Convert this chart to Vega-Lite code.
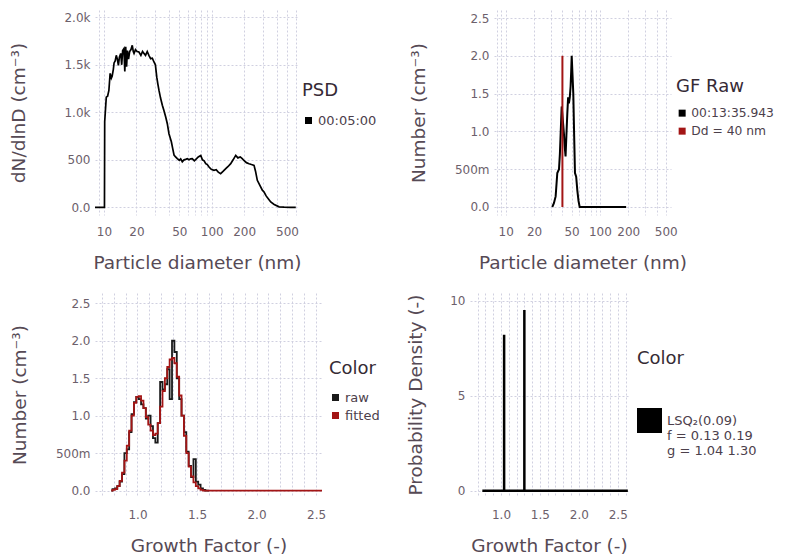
{
  "$schema": "https://vega.github.io/schema/vega-lite/v6.json",
  "background": "white",
  "padding": {"left": 9, "top": 10, "right": 0, "bottom": 0},
  "resolve": {"scale": {"color": "independent"}, "legend": {"color": "independent"}},
  "config": {
    "view": {"stroke": null},
    "font": "DejaVu Sans",
    "axis": {
      "grid": true, "gridColor": "#d0d0e0", "gridDash": [2, 2], "gridWidth": 1,
      "domain": false, "ticks": false, "labelOverlap": false, "labelFlush": false, "labelBound": false,
      "labelColor": "#6c606b", "labelFontSize": 12, "labelPadding": 5,
      "titleColor": "#564a55", "titleFontSize": 18.5, "titleFontWeight": "normal"
    },
    "axisX": {"labelPadding": 11, "titlePadding": 16},
    "legend": {
      "orient": "none", "padding": 0,
      "titleFontSize": 18, "titleFontWeight": "normal", "titleColor": "#362a35", "titlePadding": 14,
      "labelFontSize": 13, "labelColor": "#4c404b", "labelOffset": 3, "rowPadding": -10,
      "symbolType": "square", "symbolSize": 4, "symbolStrokeWidth": 5
    }
  },
  "datasets": {
    "psd": [
      {"d": 7.6, "n": 0, "s": "00:05:00"}, {"d": 10.1, "n": 0, "s": "00:05:00"}, {"d": 10.15, "n": 900, "s": "00:05:00"}, {"d": 10.5, "n": 1160, "s": "00:05:00"}, {"d": 10.8, "n": 1170, "s": "00:05:00"},
      {"d": 11.1, "n": 1230, "s": "00:05:00"}, {"d": 11.4, "n": 1410, "s": "00:05:00"}, {"d": 11.7, "n": 1360, "s": "00:05:00"}, {"d": 11.9, "n": 1380, "s": "00:05:00"}, {"d": 12.2, "n": 1450, "s": "00:05:00"},
      {"d": 12.4, "n": 1520, "s": "00:05:00"}, {"d": 12.7, "n": 1540, "s": "00:05:00"}, {"d": 13.0, "n": 1600, "s": "00:05:00"}, {"d": 13.3, "n": 1560, "s": "00:05:00"}, {"d": 13.6, "n": 1495, "s": "00:05:00"},
      {"d": 13.9, "n": 1580, "s": "00:05:00"}, {"d": 14.3, "n": 1620, "s": "00:05:00"}, {"d": 14.6, "n": 1500, "s": "00:05:00"}, {"d": 14.9, "n": 1650, "s": "00:05:00"}, {"d": 15.3, "n": 1670, "s": "00:05:00"},
      {"d": 15.6, "n": 1430, "s": "00:05:00"}, {"d": 15.9, "n": 1690, "s": "00:05:00"}, {"d": 16.2, "n": 1480, "s": "00:05:00"}, {"d": 16.5, "n": 1650, "s": "00:05:00"}, {"d": 16.9, "n": 1560, "s": "00:05:00"},
      {"d": 17.3, "n": 1640, "s": "00:05:00"}, {"d": 17.8, "n": 1660, "s": "00:05:00"}, {"d": 18.3, "n": 1705, "s": "00:05:00"}, {"d": 18.7, "n": 1640, "s": "00:05:00"}, {"d": 19.0, "n": 1620, "s": "00:05:00"},
      {"d": 19.6, "n": 1660, "s": "00:05:00"}, {"d": 20.3, "n": 1640, "s": "00:05:00"}, {"d": 21.1, "n": 1635, "s": "00:05:00"}, {"d": 22.0, "n": 1600, "s": "00:05:00"}, {"d": 22.8, "n": 1640, "s": "00:05:00"},
      {"d": 23.5, "n": 1620, "s": "00:05:00"}, {"d": 24.3, "n": 1600, "s": "00:05:00"}, {"d": 25.2, "n": 1640, "s": "00:05:00"}, {"d": 26.1, "n": 1600, "s": "00:05:00"}, {"d": 27.1, "n": 1565, "s": "00:05:00"},
      {"d": 28.1, "n": 1570, "s": "00:05:00"}, {"d": 29.1, "n": 1530, "s": "00:05:00"}, {"d": 30.0, "n": 1500, "s": "00:05:00"}, {"d": 30.9, "n": 1370, "s": "00:05:00"}, {"d": 31.6, "n": 1300, "s": "00:05:00"},
      {"d": 32.4, "n": 1230, "s": "00:05:00"}, {"d": 33.5, "n": 1150, "s": "00:05:00"}, {"d": 34.8, "n": 1075, "s": "00:05:00"}, {"d": 36.0, "n": 1020, "s": "00:05:00"}, {"d": 37.4, "n": 950, "s": "00:05:00"},
      {"d": 38.7, "n": 880, "s": "00:05:00"}, {"d": 40.1, "n": 775, "s": "00:05:00"}, {"d": 41.2, "n": 730, "s": "00:05:00"}, {"d": 42.2, "n": 690, "s": "00:05:00"}, {"d": 43.4, "n": 620, "s": "00:05:00"},
      {"d": 44.7, "n": 550, "s": "00:05:00"}, {"d": 46.2, "n": 530, "s": "00:05:00"}, {"d": 47.9, "n": 512, "s": "00:05:00"}, {"d": 50.0, "n": 495, "s": "00:05:00"}, {"d": 51.5, "n": 510, "s": "00:05:00"},
      {"d": 53.3, "n": 480, "s": "00:05:00"}, {"d": 55.3, "n": 500, "s": "00:05:00"}, {"d": 57.3, "n": 505, "s": "00:05:00"}, {"d": 59.3, "n": 512, "s": "00:05:00"}, {"d": 61.5, "n": 500, "s": "00:05:00"},
      {"d": 63.8, "n": 510, "s": "00:05:00"}, {"d": 66.0, "n": 512, "s": "00:05:00"}, {"d": 69.0, "n": 490, "s": "00:05:00"}, {"d": 72.0, "n": 510, "s": "00:05:00"}, {"d": 75.0, "n": 530, "s": "00:05:00"},
      {"d": 79.1, "n": 545, "s": "00:05:00"}, {"d": 82.0, "n": 500, "s": "00:05:00"}, {"d": 85.0, "n": 490, "s": "00:05:00"}, {"d": 88.0, "n": 460, "s": "00:05:00"}, {"d": 91.0, "n": 450, "s": "00:05:00"},
      {"d": 94.4, "n": 424, "s": "00:05:00"}, {"d": 99.0, "n": 400, "s": "00:05:00"}, {"d": 105, "n": 389, "s": "00:05:00"}, {"d": 110, "n": 395, "s": "00:05:00"}, {"d": 115, "n": 370, "s": "00:05:00"},
      {"d": 121, "n": 354, "s": "00:05:00"}, {"d": 128, "n": 380, "s": "00:05:00"}, {"d": 135, "n": 407, "s": "00:05:00"}, {"d": 142, "n": 430, "s": "00:05:00"}, {"d": 150, "n": 459, "s": "00:05:00"},
      {"d": 158, "n": 500, "s": "00:05:00"}, {"d": 167, "n": 547, "s": "00:05:00"}, {"d": 175, "n": 520, "s": "00:05:00"}, {"d": 184, "n": 530, "s": "00:05:00"}, {"d": 192, "n": 512, "s": "00:05:00"},
      {"d": 200, "n": 490, "s": "00:05:00"}, {"d": 210, "n": 470, "s": "00:05:00"}, {"d": 222, "n": 459, "s": "00:05:00"}, {"d": 234, "n": 450, "s": "00:05:00"}, {"d": 247, "n": 442, "s": "00:05:00"},
      {"d": 255, "n": 380, "s": "00:05:00"}, {"d": 265, "n": 284, "s": "00:05:00"}, {"d": 280, "n": 230, "s": "00:05:00"}, {"d": 295, "n": 180, "s": "00:05:00"}, {"d": 306, "n": 161, "s": "00:05:00"},
      {"d": 320, "n": 120, "s": "00:05:00"}, {"d": 335, "n": 90, "s": "00:05:00"}, {"d": 353, "n": 56, "s": "00:05:00"}, {"d": 380, "n": 30, "s": "00:05:00"}, {"d": 422, "n": 5, "s": "00:05:00"},
      {"d": 470, "n": 1, "s": "00:05:00"}, {"d": 540, "n": 0, "s": "00:05:00"}, {"d": 603, "n": 0, "s": "00:05:00"}
    ],
    "gfraw": [
      {"d": 31.2, "n": 0, "s": "00:13:35.943"}, {"d": 32.5, "n": 0.05, "s": "00:13:35.943"}, {"d": 33.9, "n": 0.14, "s": "00:13:35.943"},
      {"d": 35.3, "n": 0.45, "s": "00:13:35.943"}, {"d": 36.8, "n": 0.5, "s": "00:13:35.943"}, {"d": 37.6, "n": 0.7, "s": "00:13:35.943"},
      {"d": 38.4, "n": 1.0, "s": "00:13:35.943"}, {"d": 39.3, "n": 1.33, "s": "00:13:35.943"}, {"d": 40.4, "n": 1.15, "s": "00:13:35.943"},
      {"d": 41.5, "n": 0.97, "s": "00:13:35.943"}, {"d": 42.3, "n": 0.8, "s": "00:13:35.943"}, {"d": 43.2, "n": 0.67, "s": "00:13:35.943"},
      {"d": 44.1, "n": 0.95, "s": "00:13:35.943"}, {"d": 45.1, "n": 1.24, "s": "00:13:35.943"}, {"d": 46.0, "n": 1.45, "s": "00:13:35.943"},
      {"d": 46.9, "n": 1.37, "s": "00:13:35.943"}, {"d": 47.9, "n": 1.45, "s": "00:13:35.943"}, {"d": 48.9, "n": 1.6, "s": "00:13:35.943"},
      {"d": 49.6, "n": 1.8, "s": "00:13:35.943"}, {"d": 50.2, "n": 2.0, "s": "00:13:35.943"}, {"d": 51.2, "n": 1.75, "s": "00:13:35.943"},
      {"d": 52.2, "n": 1.5, "s": "00:13:35.943"}, {"d": 53.3, "n": 0.95, "s": "00:13:35.943"}, {"d": 54.4, "n": 0.45, "s": "00:13:35.943"},
      {"d": 56.0, "n": 0.4, "s": "00:13:35.943"}, {"d": 57.6, "n": 0.22, "s": "00:13:35.943"}, {"d": 59.3, "n": 0.08, "s": "00:13:35.943"},
      {"d": 61.0, "n": 0, "s": "00:13:35.943"}, {"d": 100, "n": 0, "s": "00:13:35.943"}, {"d": 190, "n": 0, "s": "00:13:35.943"},
      {"d": 40, "n": 0, "s": "Dd = 40 nm"}, {"d": 40, "n": 2.0, "s": "Dd = 40 nm"}
    ],
    "gf": [
      {"g": 0.78, "n": 0.00, "k": "raw"}, {"g": 0.80, "n": 0.02, "k": "raw"}, {"g": 0.82, "n": 0.03, "k": "raw"}, {"g": 0.84, "n": 0.06, "k": "raw"},
      {"g": 0.86, "n": 0.12, "k": "raw"}, {"g": 0.88, "n": 0.22, "k": "raw"}, {"g": 0.90, "n": 0.50, "k": "raw"}, {"g": 0.92, "n": 0.55, "k": "raw"},
      {"g": 0.94, "n": 0.78, "k": "raw"}, {"g": 0.96, "n": 1.02, "k": "raw"}, {"g": 0.98, "n": 1.18, "k": "raw"}, {"g": 1.00, "n": 1.25, "k": "raw"},
      {"g": 1.02, "n": 1.22, "k": "raw"}, {"g": 1.04, "n": 1.15, "k": "raw"}, {"g": 1.06, "n": 1.10, "k": "raw"}, {"g": 1.08, "n": 0.96, "k": "raw"},
      {"g": 1.10, "n": 1.00, "k": "raw"}, {"g": 1.12, "n": 0.86, "k": "raw"}, {"g": 1.14, "n": 0.70, "k": "raw"}, {"g": 1.16, "n": 0.64, "k": "raw"},
      {"g": 1.18, "n": 0.90, "k": "raw"}, {"g": 1.20, "n": 1.45, "k": "raw"}, {"g": 1.22, "n": 1.35, "k": "raw"}, {"g": 1.24, "n": 1.42, "k": "raw"},
      {"g": 1.26, "n": 1.62, "k": "raw"}, {"g": 1.28, "n": 1.22, "k": "raw"}, {"g": 1.30, "n": 2.00, "k": "raw"}, {"g": 1.32, "n": 1.85, "k": "raw"},
      {"g": 1.34, "n": 1.50, "k": "raw"}, {"g": 1.36, "n": 1.22, "k": "raw"}, {"g": 1.38, "n": 1.00, "k": "raw"}, {"g": 1.40, "n": 0.78, "k": "raw"},
      {"g": 1.42, "n": 0.52, "k": "raw"}, {"g": 1.44, "n": 0.33, "k": "raw"}, {"g": 1.46, "n": 0.18, "k": "raw"}, {"g": 1.48, "n": 0.42, "k": "raw"},
      {"g": 1.50, "n": 0.12, "k": "raw"}, {"g": 1.52, "n": 0.08, "k": "raw"}, {"g": 1.54, "n": 0.03, "k": "raw"}, {"g": 1.56, "n": 0.01, "k": "raw"},
      {"g": 1.58, "n": 0.00, "k": "raw"}, {"g": 1.60, "n": 0.00, "k": "raw"},
      {"g": 0.78, "n": 0.00, "k": "fitted"}, {"g": 0.80, "n": 0.01, "k": "fitted"}, {"g": 0.82, "n": 0.02, "k": "fitted"}, {"g": 0.84, "n": 0.06, "k": "fitted"},
      {"g": 0.86, "n": 0.13, "k": "fitted"}, {"g": 0.88, "n": 0.24, "k": "fitted"}, {"g": 0.90, "n": 0.40, "k": "fitted"}, {"g": 0.92, "n": 0.60, "k": "fitted"},
      {"g": 0.94, "n": 0.80, "k": "fitted"}, {"g": 0.96, "n": 1.00, "k": "fitted"}, {"g": 0.98, "n": 1.17, "k": "fitted"}, {"g": 1.00, "n": 1.25, "k": "fitted"},
      {"g": 1.02, "n": 1.26, "k": "fitted"}, {"g": 1.04, "n": 1.20, "k": "fitted"}, {"g": 1.06, "n": 1.10, "k": "fitted"}, {"g": 1.08, "n": 0.98, "k": "fitted"},
      {"g": 1.10, "n": 0.88, "k": "fitted"}, {"g": 1.12, "n": 0.80, "k": "fitted"}, {"g": 1.14, "n": 0.74, "k": "fitted"}, {"g": 1.16, "n": 0.76, "k": "fitted"},
      {"g": 1.18, "n": 0.90, "k": "fitted"}, {"g": 1.20, "n": 1.12, "k": "fitted"}, {"g": 1.22, "n": 1.33, "k": "fitted"}, {"g": 1.24, "n": 1.50, "k": "fitted"},
      {"g": 1.26, "n": 1.65, "k": "fitted"}, {"g": 1.28, "n": 1.75, "k": "fitted"}, {"g": 1.30, "n": 1.77, "k": "fitted"}, {"g": 1.32, "n": 1.70, "k": "fitted"},
      {"g": 1.34, "n": 1.52, "k": "fitted"}, {"g": 1.36, "n": 1.27, "k": "fitted"}, {"g": 1.38, "n": 1.00, "k": "fitted"}, {"g": 1.40, "n": 0.73, "k": "fitted"},
      {"g": 1.42, "n": 0.50, "k": "fitted"}, {"g": 1.44, "n": 0.32, "k": "fitted"}, {"g": 1.46, "n": 0.19, "k": "fitted"}, {"g": 1.48, "n": 0.11, "k": "fitted"},
      {"g": 1.50, "n": 0.06, "k": "fitted"}, {"g": 1.52, "n": 0.03, "k": "fitted"}, {"g": 1.54, "n": 0.01, "k": "fitted"}, {"g": 1.56, "n": 0.00, "k": "fitted"},
      {"g": 1.60, "n": 0.00, "k": "fitted"}, {"g": 2.55, "n": 0.00, "k": "fitted"}
    ],
    "pdf": [
      {"g": 0.76, "p": 0, "c": "LSQ₂(0.09)| f = 0.13 0.19|g = 1.04 1.30"},
      {"g": 1.04, "p": 0, "c": "LSQ₂(0.09)| f = 0.13 0.19|g = 1.04 1.30"},
      {"g": 1.04, "p": 8.2, "c": "LSQ₂(0.09)| f = 0.13 0.19|g = 1.04 1.30"},
      {"g": 1.04, "p": 0, "c": "LSQ₂(0.09)| f = 0.13 0.19|g = 1.04 1.30"},
      {"g": 1.30, "p": 0, "c": "LSQ₂(0.09)| f = 0.13 0.19|g = 1.04 1.30"},
      {"g": 1.30, "p": 9.5, "c": "LSQ₂(0.09)| f = 0.13 0.19|g = 1.04 1.30"},
      {"g": 1.30, "p": 0, "c": "LSQ₂(0.09)| f = 0.13 0.19|g = 1.04 1.30"},
      {"g": 2.63, "p": 0, "c": "LSQ₂(0.09)| f = 0.13 0.19|g = 1.04 1.30"}
    ]
  },
  "spacing": 21,
  "vconcat": [
    {
      "spacing": 32,
      "resolve": {"scale": {"color": "independent"}, "legend": {"color": "independent"}},
      "hconcat": [
        {
          "width": 204, "height": 205,
          "data": {"name": "psd"},
          "mark": {"type": "line", "strokeWidth": 1.7, "clip": true},
          "encoding": {
            "x": {"field": "d", "type": "quantitative",
              "scale": {"type": "log", "domain": [8.25, 646], "nice": false},
              "axis": {"title": "Particle diameter (nm)", "values": [9, 10, 20, 30, 40, 50, 60, 70, 80, 90, 100, 200, 300, 400, 500, 600],
                "labelExpr": "indexof([10, 20, 50, 100, 200, 500], datum.value) >= 0 ? format(datum.value, 'd') : ''"}},
            "y": {"field": "n", "type": "quantitative",
              "scale": {"domain": [-81, 2077], "nice": false, "zero": false},
              "axis": {"title": "dN/dlnD (cm⁻³)", "values": [0, 500, 1000, 1500, 2000], "titlePadding": 35,
                "labelExpr": "datum.value == 0 ? '0.0' : datum.value < 1000 ? format(datum.value, 'd') : format(datum.value / 1000, '.1f') + 'k'"}},
            "color": {"field": "s", "type": "nominal", "scale": {"range": ["black"]},
              "legend": {"title": "PSD", "legendX": 207, "legendY": 72, "titlePadding": 14}}
          }
        },
        {
          "width": 177, "height": 205,
          "data": {"name": "gfraw"},
          "mark": {"type": "line", "strokeWidth": 2, "clip": true},
          "encoding": {
            "x": {"field": "d", "type": "quantitative",
              "scale": {"type": "log", "domain": [7.51, 569], "nice": false},
              "axis": {"title": "Particle diameter (nm)", "values": [8, 9, 10, 20, 30, 40, 50, 60, 70, 80, 90, 100, 200, 300, 400, 500],
                "labelExpr": "indexof([10, 20, 50, 100, 200, 500], datum.value) >= 0 ? format(datum.value, 'd') : ''"}},
            "y": {"field": "n", "type": "quantitative",
              "scale": {"domain": [-0.106, 2.606], "nice": false, "zero": false},
              "axis": {"title": "Number (cm⁻³)", "values": [0, 0.5, 1, 1.5, 2, 2.5], "titlePadding": 26,
                "labelExpr": "datum.value == 0 ? '0.0' : datum.value == 0.5 ? '500m' : format(datum.value, '.1f')"}},
            "color": {"field": "s", "type": "nominal",
              "scale": {"domain": ["00:13:35.943", "Dd = 40 nm"], "range": ["black", "#a31515"]},
              "legend": {"title": "GF Raw", "legendX": 182, "legendY": 68, "titlePadding": 11, "labelFontSize": 12.3}}
          }
        }
      ]
    },
    {
      "spacing": 26,
      "resolve": {"scale": {"color": "independent"}, "legend": {"color": "independent"}},
      "hconcat": [
        {
          "width": 227, "height": 203,
          "data": {"name": "gf"},
          "mark": {"type": "line", "strokeWidth": 1.8, "interpolate": "step", "clip": true},
          "encoding": {
            "x": {"field": "g", "type": "quantitative",
              "scale": {"domain": [0.643, 2.55], "nice": false, "zero": false},
              "axis": {"title": "Growth Factor (-)", "labelPadding": 13, "values": [0.7, 0.8, 0.9, 1, 1.1, 1.2, 1.3, 1.4, 1.5, 1.6, 1.7, 1.8, 1.9, 2, 2.1, 2.2, 2.3, 2.4, 2.5],
                "labelExpr": "indexof([1, 1.5, 2, 2.5], datum.value) >= 0 ? format(datum.value, '.1f') : ''"}},
            "y": {"field": "n", "type": "quantitative",
              "scale": {"domain": [-0.071, 2.637], "nice": false, "zero": false},
              "axis": {"title": "Number (cm⁻³)", "values": [0, 0.5, 1, 1.5, 2, 2.5], "titlePadding": 26,
                "labelExpr": "datum.value == 0 ? '0.0' : datum.value == 0.5 ? '500m' : format(datum.value, '.1f')"}},
            "color": {"field": "k", "type": "nominal",
              "scale": {"domain": ["raw", "fitted"], "range": ["#1a1a1a", "#a31515"]},
              "legend": {"title": "Color", "legendX": 234, "legendY": 67, "titlePadding": 13, "rowPadding": -8}}
          }
        },
        {
          "width": 158, "height": 203,
          "data": {"name": "pdf"},
          "mark": {"type": "line", "strokeWidth": 2.5, "clip": true},
          "encoding": {
            "x": {"field": "g", "type": "quantitative",
              "scale": {"domain": [0.6015, 2.632], "nice": false, "zero": false},
              "axis": {"title": "Growth Factor (-)", "labelPadding": 13, "values": [0.7, 0.8, 0.9, 1, 1.1, 1.2, 1.3, 1.4, 1.5, 1.6, 1.7, 1.8, 1.9, 2, 2.1, 2.2, 2.3, 2.4, 2.5, 2.6],
                "labelExpr": "indexof([1, 1.5, 2, 2.5], datum.value) >= 0 ? format(datum.value, '.1f') : ''"}},
            "y": {"field": "p", "type": "quantitative",
              "scale": {"domain": [-0.28, 10.4], "nice": false, "zero": false},
              "axis": {"title": "Probability Density (-)", "values": [0, 5, 10], "titlePadding": 24}},
            "color": {"field": "c", "type": "nominal", "scale": {"range": ["black"]},
              "legend": {"title": "Color", "legendX": 167, "legendY": 57, "titlePadding": 40, "rowPadding": 0,
                "symbolSize": 16, "symbolStrokeWidth": 21, "labelOffset": 5, "labelExpr": "split(datum.label, '|')", "labelFontSize": 13}},
            "order": {"value": null}
          }
        }
      ]
    }
  ]
}
